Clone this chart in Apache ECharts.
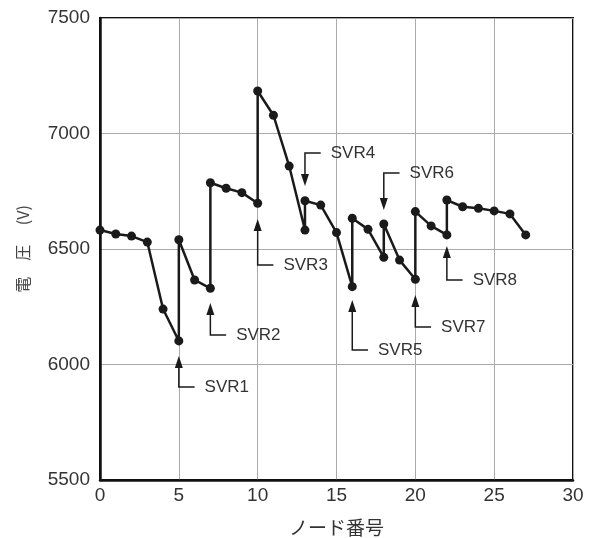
<!DOCTYPE html>
<html>
<head>
<meta charset="utf-8">
<script src="https://cdn.jsdelivr.net/npm/echarts@6/dist/echarts.min.js"></script>
<style>
html,body{margin:0;padding:0;background:#fff;}
#chart{width:595px;height:538px;}
</style>
</head>
<body>
<div id="chart"></div>
<script>
// Node numbers (SVR nodes appear twice: before / after regulation)
var nodes = [0,1,2,3,4,5,5,6,7,7,8,9,10,10,11,12,13,13,14,15,16,16,17,18,18,19,20,20,21,22,22,23,24,25,26,27];
var voltages = [6582,6565,6556,6530,6240,6102,6540,6366,6330,6787,6763,6744,6698,7184,7079,6859,6582,6709,6690,6571,6337,6633,6585,6464,6608,6452,6369,6662,6600,6561,6712,6683,6676,6665,6652,6561];

// SVR annotations
var svrNames = ['SVR1','SVR2','SVR3','SVR4','SVR5','SVR6','SVR7','SVR8'];
var svrNodes = [5,7,10,13,16,18,20,22];
var svrTipV = [6037,6266,6630,6773,6279,6669,6301,6513];
var svrElbowV = [5903,6128,6431,6916,6063,6829,6162,6366];

var xTicks = [0,5,10,15,20,25,30];
var yTicks = [5500,6000,6500,7000,7500];

var lineData = nodes.map(function(n,i){return [n, voltages[i]];});
var annData = svrNodes.map(function(n,i){return [n, svrTipV[i], svrElbowV[i], i];});

var chart = echarts.init(document.getElementById('chart'), null, {renderer:'canvas'});
var font = '"Liberation Sans", Arial, sans-serif';
var cjk = '"Noto Sans CJK JP", "Noto Sans", sans-serif';

chart.setOption({
  backgroundColor:'#ffffff',
  animation:false,
  grid:{left:100,right:22,top:18,bottom:58,containLabel:false,outerBoundsMode:'none',show:true,borderColor:'#111',borderWidth:2,backgroundColor:'transparent'},
  xAxis:{
    type:'value',min:xTicks[0],max:xTicks[xTicks.length-1],interval:5,
    name:'ノード番号',nameLocation:'middle',nameGap:38,
    nameTextStyle:{fontFamily:cjk,fontSize:19,color:'#333'},
    axisLine:{show:true,lineStyle:{color:'#111',width:2.5}},
    axisTick:{show:false},
    axisLabel:{fontFamily:font,fontSize:19,color:'#333',margin:6,formatter:function(v){return String(v);}},
    splitLine:{show:true,lineStyle:{color:'#aaa',width:1}}
  },
  yAxis:{
    type:'value',min:yTicks[0],max:yTicks[yTicks.length-1],interval:500,
    name:'電　圧　 (V)',nameLocation:'middle',nameGap:69,nameRotate:90,
    nameTextStyle:{fontFamily:cjk,fontSize:16,color:'#444'},
    axisLine:{show:true,lineStyle:{color:'#111',width:2.5}},
    axisTick:{show:false},
    axisLabel:{fontFamily:font,fontSize:19,color:'#333',margin:10,formatter:function(v){return String(v);}},
    splitLine:{show:true,lineStyle:{color:'#aaa',width:1}}
  },
  series:[
    {
      type:'line',data:lineData,
      symbol:'circle',symbolSize:9,
      lineStyle:{color:'#1a1a1a',width:2.5},
      itemStyle:{color:'#1a1a1a'},
      z:5
    },
    {
      type:'custom',data:annData,z:4,
      renderItem:function(params, api){
        var n = api.value(0), tipV = api.value(1), elbV = api.value(2), idx = api.value(3);
        var tip = api.coord([n, tipV]);
        var elb = api.coord([n, elbV]);
        var legEnd = api.coord([n+1, elbV]);
        var up = tipV > elbV;
        var ah = 12, aw = 4;
        var dir = up ? 1 : -1;
        var baseY = tip[1] + dir*ah;
        return {
          type:'group',
          children:[
            {type:'polyline',shape:{points:[[legEnd[0],elb[1]],[elb[0],elb[1]],[tip[0],baseY]]},
             style:{stroke:'#1a1a1a',lineWidth:1.5,fill:null}},
            {type:'polygon',shape:{points:[[tip[0],tip[1]],[tip[0]-aw,baseY],[tip[0]+aw,baseY]]},
             style:{fill:'#1a1a1a',stroke:null}},
            {type:'text',x:legEnd[0]+10,y:elb[1],
             style:{text:svrNames[idx],fontFamily:font,fontSize:17,fill:'#333',verticalAlign:'middle',align:'left'}}
          ]
        };
      }
    }
  ]
});
</script>
</body>
</html>
